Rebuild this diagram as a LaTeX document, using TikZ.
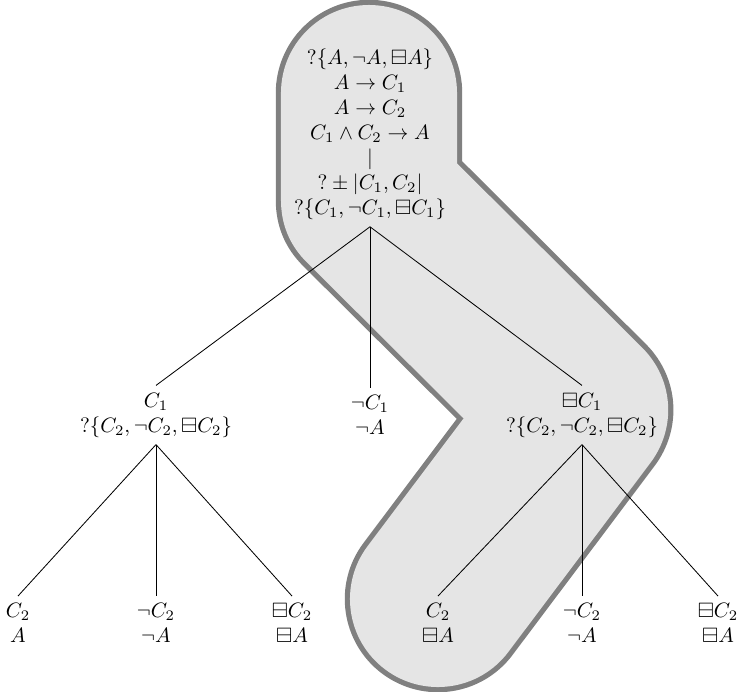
\documentclass[tikz,border=0pt]{standalone}
\usepackage{amsmath}
\usepackage{amssymb}

\begin{document}
\begin{tikzpicture}[x=0.48pt, y=-0.48pt]
    \tikzstyle{state} = [align=center]
    \tikzstyle{branch} = [draw, thin]
    \tikzstyle{band} = [line cap=round, line join=round]
    \useasboundingbox (0,0) rectangle (737,692);

    % highlighted branch
    \draw [band, gray, line width=89.5pt] (369,93) -- (369,200) -- (580,410) -- (438,599);
    \draw [band, gray!20, line width=84.5pt] (369,93) -- (369,200) -- (580,410) -- (438,599);

    \node [state] (root) at (370,134) {$?\{A,\neg A,\boxminus A\}$\\ $A\to C_1$\\ $A\to C_2$\\ $C_1\wedge C_2\to A$\\ $|$\\ $?\pm|C_1,C_2|$\\ $?\{C_1,\neg C_1,\boxminus C_1\}$};

    \node [state] (pos) at (156,415) {$C_1$\\ $?\{C_2,\neg C_2,\boxminus C_2\}$};
    \node [state] (neg) at (370,415) {$\neg C_1$\\ $\neg A$};
    \node [state] (box) at (582,415) {$\boxminus C_1$\\ $?\{C_2,\neg C_2,\boxminus C_2\}$};

    \node [state] (pp) at (18,623) {$C_2$\\ $A$};
    \node [state] (pn) at (156,623) {$\neg C_2$\\ $\neg A$};
    \node [state] (pb) at (292,623) {$\boxminus C_2$\\ $\boxminus A$};
    \node [state] (bp) at (438,623) {$C_2$\\ $\boxminus A$};
    \node [state] (bn) at (582,623) {$\neg C_2$\\ $\neg A$};
    \node [state] (bb) at (718,623) {$\boxminus C_2$\\ $\boxminus A$};

    \draw [branch] (root.south) -- (pos.north);
    \draw [branch] (root.south) -- (neg.north);
    \draw [branch] (root.south) -- (box.north);
    \draw [branch] (pos.south) -- (pp.north);
    \draw [branch] (pos.south) -- (pn.north);
    \draw [branch] (pos.south) -- (pb.north);
    \draw [branch] (box.south) -- (bp.north);
    \draw [branch] (box.south) -- (bn.north);
    \draw [branch] (box.south) -- (bb.north);
\end{tikzpicture}
\end{document}
